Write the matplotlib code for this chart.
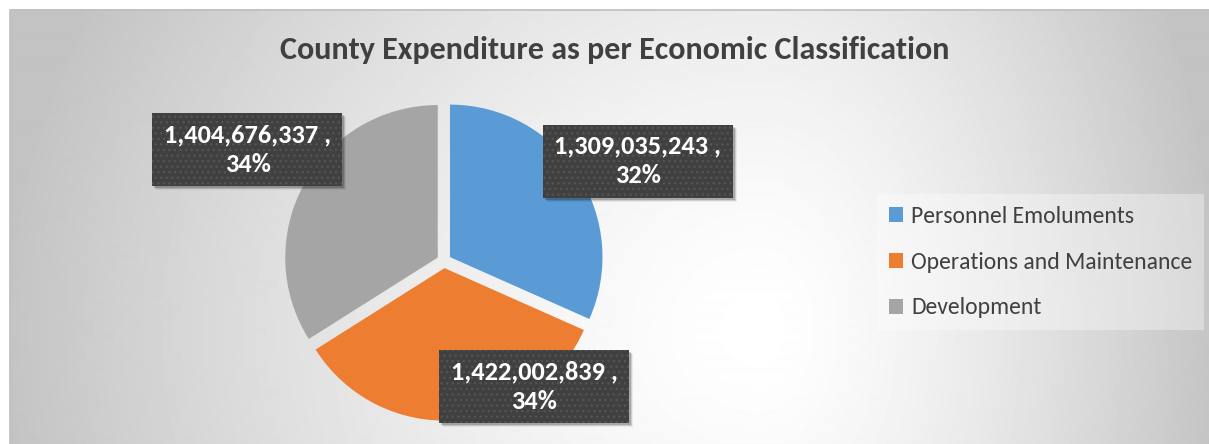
import numpy as np
import matplotlib
import matplotlib.pyplot as plt
from matplotlib import font_manager
from matplotlib.patches import Rectangle

# pick a Calibri-like font if present
names = {f.name for f in font_manager.fontManager.ttflist}
font = "Carlito" if "Carlito" in names else "Lato"
plt.rcParams["font.family"] = [font, "DejaVu Sans"]
plt.rcParams["hatch.linewidth"] = 1.0

# data
categories = ["Personnel Emoluments", "Operations and Maintenance", "Development"]
amounts = [1309035243, 1422002839, 1404676337]
colors = ["#5B9BD5", "#ED7D31", "#A5A5A5"]
title = "County Expenditure as per Economic Classification"

W, H = 1209, 444
fig = plt.figure(figsize=(W / 100, H / 100), dpi=100)

# background with soft radial gradient
bg = fig.add_axes([0, 0, 1, 1], zorder=0)
bg.set_xlim(0, W)
bg.set_ylim(H, 0)
bg.axis("off")
xx, yy = np.meshgrid(np.arange(10, W), np.arange(10, H))
cx, cy = 760, 330
ax_ = np.where(xx < cx, 760, 460)
f = np.sqrt(((xx - cx) / ax_) ** 2 + ((yy - cy) / 700) ** 2)
shade = 1 - 0.235 * np.clip(f, 0, 1) ** 1.4
bg.imshow(shade, cmap="gray", vmin=0, vmax=1, extent=(10, W, H, 10),
          aspect="auto", interpolation="bilinear")
bg.plot([10, 10, W], [H, 10, 10], color="#bfbfbf", lw=1.2)

# pie
pcx, pcy, half = 444, 261, 170
axp = fig.add_axes([(pcx - half) / W, (H - pcy - half) / H, 2 * half / W, 2 * half / H], zorder=1)
wedges, _ = axp.pie(amounts, colors=colors, startangle=90, counterclock=False,
                    radius=152.5 / half, explode=[0.042] * 3,
                    wedgeprops=dict(linewidth=0))
axp.set_xlim(-1, 1)
axp.set_ylim(-1, 1)
axp.set_aspect("equal")
axp.axis("off")

# data labels
total = sum(amounts)
label_pos = [(1.141, 0.588), (0.532, -0.738), (-1.156, 0.656)]
bw, bh = 190 / half, 73 / half
for (lx, ly), v in zip(label_pos, amounts):
    for k, a in enumerate([0.18, 0.12, 0.06]):
        o = (k + 2) / half
        axp.add_patch(Rectangle((lx - bw / 2 + o, ly - bh / 2 - o), bw, bh,
                                facecolor="black", alpha=a, lw=0, clip_on=False, zorder=3))
    axp.add_patch(Rectangle((lx - bw / 2, ly - bh / 2), bw, bh, facecolor="#404040",
                            edgecolor="#545454", hatch="...", lw=0, clip_on=False, zorder=4))
    axp.text(lx, ly, f"{v:,} ,\n{v / total:.0%}", ha="center", va="center",
             color="white", fontsize=19, fontweight="bold", linespacing=1.35,
             zorder=5, clip_on=False)

# title
fig.text(615 / W, 1 - 50 / H, title, ha="center", va="center",
         fontsize=23, fontweight="bold", color="#404040")

# legend
leg = axp.legend(wedges, categories, loc="upper left",
                 bbox_to_anchor=(877 / W, 1 - 194 / H), bbox_transform=fig.transFigure,
                 frameon=True, fancybox=False, fontsize=17, labelcolor="#404040",
                 handlelength=0.6, handleheight=0.6, handletextpad=0.35,
                 labelspacing=1.05, borderpad=0.5, borderaxespad=0)
leg.get_frame().set_facecolor("white")
leg.get_frame().set_alpha(0.35)
leg.get_frame().set_linewidth(0)

fig.savefig("out.png", dpi=100, facecolor="white")
